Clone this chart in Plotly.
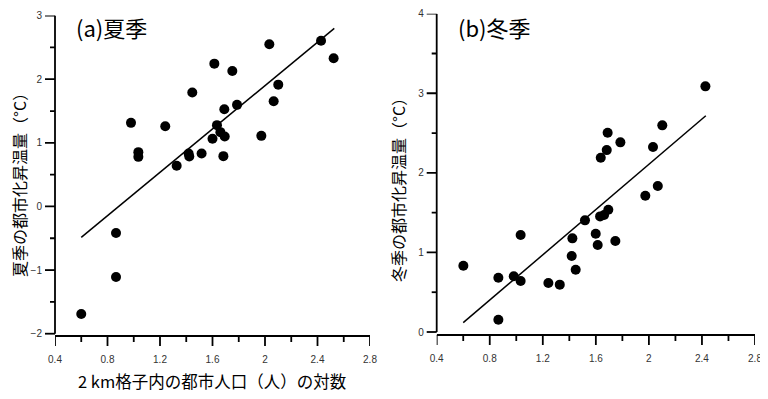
import plotly.graph_objects as go

# ---- data: (a) summer ----
summer_x = [0.979, 1.035, 1.035, 1.24, 1.327, 1.418, 1.423, 1.446, 1.517, 1.60,
            1.614, 1.634, 1.66, 1.693, 1.683, 1.69, 1.751, 1.787, 1.972, 2.033,
            2.066, 2.101, 2.427, 2.523, 0.865, 0.865, 0.600]
summer_y = [1.314, 0.854, 0.78, 1.262, 0.639, 0.832, 0.785, 1.79, 0.832, 1.063,
            2.245, 1.278, 1.168, 1.10, 0.791, 1.529, 2.13, 1.597, 1.11, 2.55,
            1.655, 1.915, 2.606, 2.33, -0.418, -1.109, -1.69]
summer_fit_x = [0.60, 2.528]
summer_fit_y = [-0.487, 2.80]

# ---- data: (b) winter ----
winter_x = [2.426, 2.101, 2.031, 2.067, 1.973, 1.689, 1.682, 1.637, 1.785,
            1.694, 1.662, 1.632, 1.518, 1.599, 1.614, 1.747, 1.423, 1.418,
            1.448, 1.033, 1.033, 0.981, 0.865, 0.865, 0.601, 1.242, 1.328]
winter_y = [3.087, 2.597, 2.324, 1.834, 1.712, 2.504, 2.286, 2.19, 2.383,
            1.537, 1.47, 1.453, 1.403, 1.235, 1.093, 1.143, 1.177, 0.955,
            0.783, 1.219, 0.641, 0.70, 0.682, 0.155, 0.833, 0.616, 0.595]
winter_fit_x = [0.60, 2.429]
winter_fit_y = [0.117, 2.717]

x_ticks = [0.4, 0.8, 1.2, 1.6, 2.0, 2.4, 2.8]
x_tick_labels = ["0.4", "0.8", "1.2", "1.6", "2", "2.4", "2.8"]
x_minor = [0.6, 1.0, 1.4, 1.8, 2.2, 2.6]
summer_y_ticks = [-2, -1, 0, 1, 2, 3]
summer_y_minor = [-1.5, -0.5, 0.5, 1.5, 2.5]
winter_y_ticks = [0, 1, 2, 3, 4]
winter_y_minor = [0.5, 1.5, 2.5, 3.5]

panel_a_label = "(a)夏季"
panel_b_label = "(b)冬季"
summer_y_title = "夏季の都市化昇温量（°C）"
winter_y_title = "冬季の都市化昇温量（°C）"
x_title = "2 km格子内の都市人口（人）の対数"

# page body has an 8px margin; the figure is sized to fill the rest
OFF = 8
W, H = 768 - OFF, 399 - OFF
def px(x):
    return (x - OFF) / W
def py(y):
    return 1 - (y - OFF) / H

fig = go.Figure()

marker = dict(color="black", size=10)
fig.add_trace(go.Scatter(x=summer_x, y=summer_y, mode="markers", marker=marker,
                         xaxis="x", yaxis="y", showlegend=False))
fig.add_trace(go.Scatter(x=summer_fit_x, y=summer_fit_y, mode="lines",
                         line=dict(color="black", width=1.5),
                         xaxis="x", yaxis="y", showlegend=False))
fig.add_trace(go.Scatter(x=winter_x, y=winter_y, mode="markers", marker=marker,
                         xaxis="x2", yaxis="y2", showlegend=False))
fig.add_trace(go.Scatter(x=winter_fit_x, y=winter_fit_y, mode="lines",
                         line=dict(color="black", width=1.5),
                         xaxis="x2", yaxis="y2", showlegend=False))

tickfont = dict(family="Liberation Sans, Arial, sans-serif", size=10, color="#333")
hidden_ticks = dict(ticks="outside", tickcolor="rgba(0,0,0,0)", showline=False,
                    showgrid=False, zeroline=False, tickfont=tickfont,
                    automargin=False)

panels = [
    # xaxis, yaxis, x domain (px), y-axis px span, x-axis px line, y range, ticks
    dict(xa="x", ya="y", xdom=(55, 370), ytop=15.6, ybot=333.7, xline=336,
         yr=(-2, 3), yt=summer_y_ticks, ym=summer_y_minor),
    dict(xa="x2", ya="y2", xdom=(436.7, 755), ytop=13.7, ybot=332, xline=335,
         yr=(0, 4), yt=winter_y_ticks, ym=winter_y_minor),
]

layout_axes = {}
shapes = []
LW = 1.8
for i, p in enumerate(panels):
    xkey = "xaxis" if i == 0 else "xaxis%d" % (i + 1)
    ykey = "yaxis" if i == 0 else "yaxis%d" % (i + 1)
    # y range extended so the x-axis line sits a little below the lowest tick
    unit = (p["ybot"] - p["ytop"]) / (p["yr"][1] - p["yr"][0])
    ylo = p["yr"][0] - (p["xline"] - p["ybot"]) / unit
    layout_axes[xkey] = dict(hidden_ticks, domain=[px(p["xdom"][0]), px(p["xdom"][1])],
                             range=[x_ticks[0], x_ticks[-1]], anchor=p["ya"],
                             tickmode="array", tickvals=x_ticks,
                             ticktext=x_tick_labels, ticklen=14)
    layout_axes[ykey] = dict(hidden_ticks, domain=[py(p["xline"]), py(p["ytop"])],
                             range=[ylo, p["yr"][1]], anchor=p["xa"],
                             tickmode="array", tickvals=p["yt"], ticklen=10)
    line = dict(color="black", width=LW)
    # axis lines
    shapes.append(dict(type="line", xref=p["xa"], yref="paper",
                       x0=x_ticks[0], x1=x_ticks[-1],
                       y0=py(p["xline"]), y1=py(p["xline"]), line=line))
    shapes.append(dict(type="line", xref="paper", yref=p["ya"],
                       x0=px(p["xdom"][0]), x1=px(p["xdom"][0]),
                       y0=p["yr"][0], y1=p["yr"][1], line=line))
    # x ticks
    for v in x_ticks:
        shapes.append(dict(type="line", xref=p["xa"], yref="paper", x0=v, x1=v,
                           y0=py(p["xline"]), y1=py(p["xline"] + 10), line=line))
    for v in x_minor:
        shapes.append(dict(type="line", xref=p["xa"], yref="paper", x0=v, x1=v,
                           y0=py(p["xline"]), y1=py(p["xline"] + 6), line=line))
    # y ticks
    for v in p["yt"]:
        shapes.append(dict(type="line", xref="paper", yref=p["ya"],
                           x0=px(p["xdom"][0] - 10), x1=px(p["xdom"][0]),
                           y0=v, y1=v, line=line))
    for v in p["ym"]:
        shapes.append(dict(type="line", xref="paper", yref=p["ya"],
                           x0=px(p["xdom"][0] - 5), x1=px(p["xdom"][0]),
                           y0=v, y1=v, line=line))

fig.update_layout(
    template="none",
    width=W, height=H,
    margin=dict(l=0, r=0, t=0, b=0),
    paper_bgcolor="white", plot_bgcolor="white",
    shapes=shapes,
    **layout_axes,
)

cjk = "Noto Sans CJK JP, sans-serif"
ann = [
    dict(text=panel_a_label, x=px(74), y=py(27), xanchor="left", yanchor="middle",
         font=dict(family=cjk, size=22, color="black")),
    dict(text=panel_b_label, x=px(456), y=py(27), xanchor="left", yanchor="middle",
         font=dict(family=cjk, size=22, color="black")),
    dict(text=summer_y_title, x=px(19), y=py(181), textangle=-90,
         xanchor="center", yanchor="middle",
         font=dict(family=cjk, size=16, color="black")),
    dict(text=winter_y_title, x=px(398), y=py(186), textangle=-90,
         xanchor="center", yanchor="middle",
         font=dict(family=cjk, size=16, color="black")),
    dict(text=x_title, x=px(212), y=py(381), xanchor="center", yanchor="middle",
         font=dict(family=cjk, size=16.5, color="black")),
]
for a in ann:
    a.update(xref="paper", yref="paper", showarrow=False)
fig.update_layout(annotations=ann)

fig.write_html("out.html")
